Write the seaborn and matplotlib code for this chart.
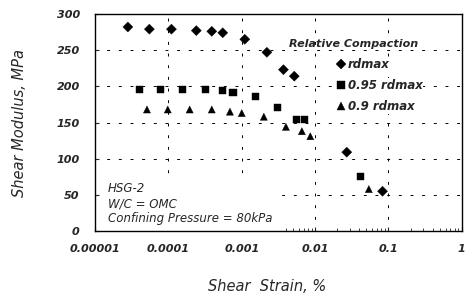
import pandas as pd
import matplotlib
matplotlib.use("Agg")
import matplotlib.pyplot as plt
import seaborn as sns
from matplotlib.ticker import FixedLocator, FixedFormatter, LogLocator, NullFormatter

# ----------------------------
# Data
# ----------------------------
strain_rd = [2.8e-5, 5.5e-5, 1.1e-4, 2.4e-4, 3.9e-4, 5.5e-4, 1.1e-3, 2.2e-3, 3.7e-3, 5.2e-3, 0.027, 0.083]
modulus_rd = [282, 279, 279, 277, 276, 274, 265, 247, 223, 214, 109, 55]

strain_95 = [4.0e-5, 7.8e-5, 1.55e-4, 3.2e-4, 5.4e-4, 7.6e-4, 1.55e-3, 3.1e-3, 5.5e-3, 7.1e-3, 0.041]
modulus_95 = [196, 195, 195, 195, 194, 192, 186, 171, 154, 154, 76]

strain_90 = [5.1e-5, 9.8e-5, 1.95e-4, 3.9e-4, 6.9e-4, 1.0e-3, 2.0e-3, 4.0e-3, 6.6e-3, 8.6e-3, 0.054]
modulus_90 = [168, 168, 168, 168, 165, 163, 158, 144, 138, 131, 58]

series_names = ["rdmax", "0.95 rdmax", "0.9 rdmax"]
x_ticks = [1e-5, 1e-4, 1e-3, 1e-2, 1e-1, 1]
x_labels = ["0.00001", "0.0001", "0.001", "0.01", "0.1", "1"]
y_ticks = [0, 50, 100, 150, 200, 250, 300]

df = pd.DataFrame({
    "strain": strain_rd + strain_95 + strain_90,
    "modulus": modulus_rd + modulus_95 + modulus_90,
    "series": [series_names[0]] * len(strain_rd)
    + [series_names[1]] * len(strain_95)
    + [series_names[2]] * len(strain_90),
})

sns.set_style("ticks")
plt.rcParams["font.family"] = ["DejaVu Sans"]
plt.rcParams["font.style"] = "italic"
plt.rcParams["font.weight"] = "bold"

fig = plt.figure(figsize=(4.66, 2.97), dpi=100)
ax = fig.add_axes([0.204, 0.222, 0.787, 0.731])

sns.scatterplot(
    data=df, x="strain", y="modulus", hue="series", style="series",
    palette=["black"] * 3, markers={"rdmax": "D", "0.95 rdmax": "s", "0.9 rdmax": "^"},
    s=26, edgecolor="black", linewidth=0.3, ax=ax, legend=True, zorder=3,
)
ax.set_xscale("log")
ax.set_xlim(1e-5, 1)
ax.set_ylim(0, 300)

ax.xaxis.set_major_locator(FixedLocator(x_ticks))
ax.xaxis.set_major_formatter(FixedFormatter(x_labels))
ax.xaxis.set_minor_locator(LogLocator(base=10, subs=range(2, 10), numticks=20))
ax.xaxis.set_minor_formatter(NullFormatter())
ax.set_yticks(y_ticks)

ax.tick_params(axis="both", which="major", direction="in", length=3, width=0.8,
               labelsize=8)
ax.tick_params(axis="x", which="major", pad=9)
ax.tick_params(axis="y", which="major", pad=11)
ax.tick_params(axis="x", which="minor", direction="in", length=2, width=0.6)

for sp in ax.spines.values():
    sp.set_linewidth(1.0)
    sp.set_color("black")

ax.grid(True, which="major", axis="both", color="black", linestyle=(0, (3, 9)), linewidth=0.7)

ax.set_xlabel("Shear  Strain, %", fontsize=10.5, labelpad=18)
ax.xaxis.label.set_x(0.47)
ax.set_ylabel("Shear Modulus, MPa", fontsize=10.5, labelpad=21)

# legend: title on its own, entries indented below it
ax.text(0.53, 0.86, "Relative Compaction", transform=ax.transAxes,
        fontsize=8, ha="left", va="center", zorder=4)
handles, labels = ax.get_legend_handles_labels()
leg = ax.legend(handles, labels, loc="upper left", bbox_to_anchor=(0.655, 0.795),
                frameon=False, fontsize=8.5, handletextpad=0.05, handlelength=1.0,
                markerscale=1.0, labelspacing=0.65, borderpad=0, borderaxespad=0)
for t in leg.get_texts():
    t.set_bbox(dict(facecolor="white", edgecolor="none", pad=0.5))

ax.text(0.035, 0.125, "HSG-2\nW/C = OMC\nConfining Pressure = 80kPa",
        transform=ax.transAxes, fontsize=8.5, va="center", ha="left",
        linespacing=1.2, fontweight="normal", zorder=2,
        bbox=dict(facecolor="white", edgecolor="none", pad=4))

fig.savefig("out.png", dpi=100)
